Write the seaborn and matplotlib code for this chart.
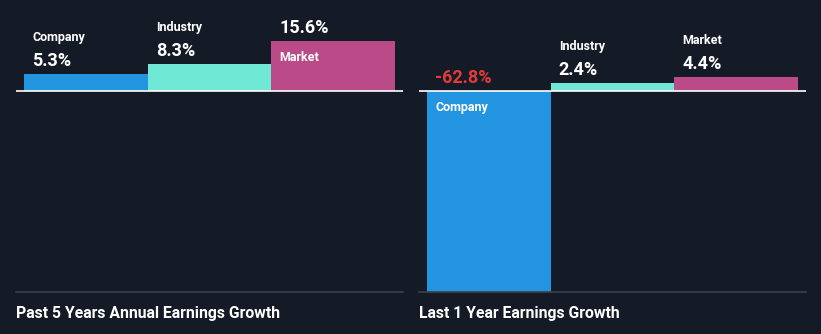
import matplotlib
matplotlib.use("Agg")
import matplotlib.pyplot as plt
import seaborn as sns
import pandas as pd

# Earnings growth figures (%)
categories = ["Company", "Industry", "Market"]
past_5y_growth = [5.3, 8.3, 15.6]
last_1y_growth = [-62.8, 2.4, 4.4]
panel_titles = ["Past 5 Years Annual Earnings Growth", "Last 1 Year Earnings Growth"]

BG = "#151b26"
palette = {"Company": "#2394df", "Industry": "#6fe8d6", "Market": "#bb4a88"}
NEG_RED = "#e23b3b"
GRID_GRAY = "#3b404a"

sns.set_theme(style="white")
plt.rcParams["font.family"] = ["Roboto", "DejaVu Sans"]

W, H = 821, 334
fig = plt.figure(figsize=(W / 100, H / 100), dpi=100, facecolor=BG)

# common vertical scale: zero line sits 91px from the top, lowest value touches the base line
ymin = min(min(past_5y_growth), min(last_1y_growth))
ymax = -ymin * 91 / 201
px_per_unit = 201 / (-ymin)

panels = [(16, past_5y_growth, panel_titles[0]), (419, last_1y_growth, panel_titles[1])]
XOFF = 5.8  # text inset from the bar's left edge, in points

for left_px, values, title in panels:
    ax = fig.add_axes([left_px / W, (H - 292) / H, 387 / W, 292 / H])
    ax.set_facecolor(BG)
    df = pd.DataFrame({"cat": categories, "val": values})
    sns.barplot(data=df, x="cat", y="val", hue="cat", palette=palette,
                width=1.0, legend=False, ax=ax, linewidth=0, saturation=1)
    pad = 8 / 123.67
    ax.set_xlim(-0.5 - pad, 2.5 + pad)
    ax.set_ylim(ymin, ymax)
    ax.axhline(0, color="white", lw=1.2, zorder=5)
    for s in ["top", "right", "left"]:
        ax.spines[s].set_visible(False)
    ax.spines["bottom"].set_color(GRID_GRAY)
    ax.spines["bottom"].set_linewidth(1.2)
    ax.set_xticks([])
    ax.set_yticks([])
    ax.set_xlabel("")
    ax.set_ylabel("")

    for i, (cat, v) in enumerate(zip(categories, values)):
        x0 = i - 0.5
        label = f"{v:.1f}%"
        if v < 0:
            ax.annotate(label, xy=(x0, 0), xytext=(XOFF, 5.6), textcoords="offset points",
                        ha="left", va="baseline", color=NEG_RED, fontsize=13,
                        fontweight="bold", zorder=6)
            ax.annotate(cat, xy=(x0, 0), xytext=(XOFF, -7.5), textcoords="offset points",
                        ha="left", va="top", color="white", fontsize=9,
                        fontweight="bold", zorder=6)
        else:
            ax.annotate(label, xy=(x0, v), xytext=(XOFF, 6.0), textcoords="offset points",
                        ha="left", va="baseline", color="white", fontsize=13,
                        fontweight="bold", zorder=6)
            top_px = 91 - v * px_per_unit
            if top_px - 8.3 - 26 - 9 > 4:
                ax.annotate(cat, xy=(x0, v), xytext=(XOFF, 6.0 + 18.0), textcoords="offset points",
                            ha="left", va="baseline", color="white", fontsize=9,
                            fontweight="bold", zorder=6)
            else:
                ax.annotate(cat, xy=(x0, v), xytext=(XOFF, -7.0), textcoords="offset points",
                            ha="left", va="top", color="white", fontsize=9,
                            fontweight="bold", zorder=6)

    fig.text(left_px / W, (H - 318) / H, title, ha="left", va="baseline",
             color="white", fontsize=11.3, fontweight="bold",
             family=["Roboto", "DejaVu Sans"])

fig.savefig("out.png", dpi=100, facecolor=BG)
